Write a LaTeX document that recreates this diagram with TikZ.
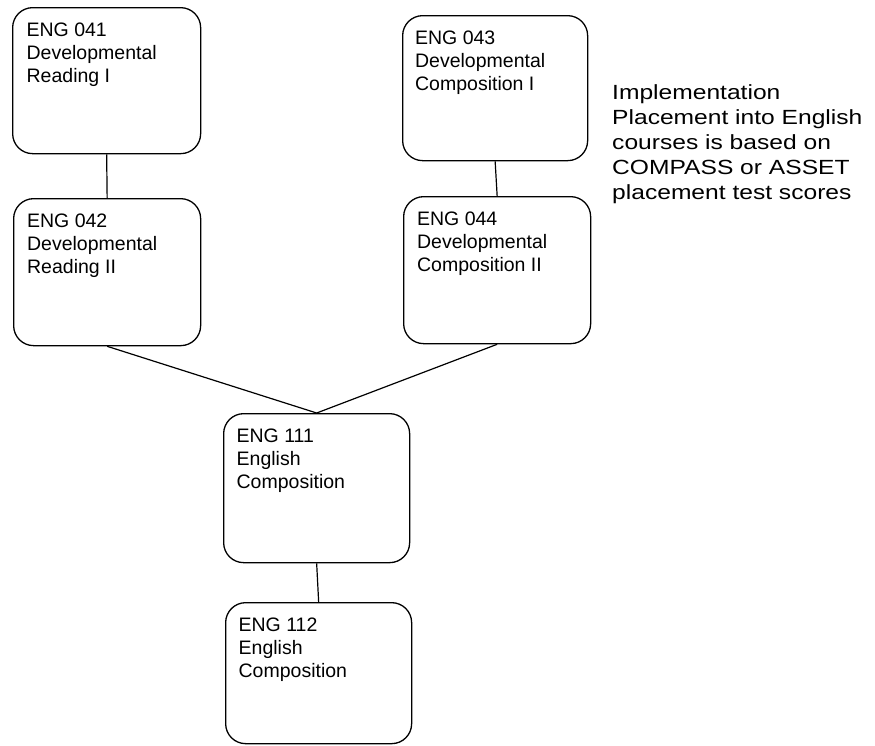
\documentclass[tikz,border=0pt]{standalone}
\usepackage{fontspec}
\setmainfont{Liberation Sans}
\newfontfamily\notefont[FakeStretch=1.2]{Liberation Sans}
\newcommand\boxtxt[2]{\parbox[c][#1][t]{160pt}{\vspace*{15pt}\raggedright #2}}
\begin{document}
\begin{tikzpicture}[x=1pt,y=-1pt,
  course/.style={draw, line width=1.3pt, rounded corners=20pt, anchor=north west,
    inner xsep=9pt, inner ysep=0pt, font=\fontsize{19.5pt}{23pt}\selectfont},
  link/.style={line width=1.2pt}]
\useasboundingbox[fill=white] (0,0) rectangle (875,745);
\node[course, minimum width=188pt] (e041) at (12,7) {\boxtxt{146pt}{ENG 041\\Developmental\\Reading I}};
\node[course, minimum width=187pt] (e042) at (13,198) {\boxtxt{147pt}{ENG 042\\Developmental\\Reading II}};
\node[course, minimum width=185pt] (e043) at (402,15) {\boxtxt{145pt}{ENG 043\\Developmental\\Composition I}};
\node[course, minimum width=187pt] (e044) at (403,196) {\boxtxt{147pt}{ENG 044\\Developmental\\Composition II}};
\node[course, minimum width=186pt] (e111) at (223,413) {\boxtxt{149pt}{ENG 111\\English\\Composition}};
\node[course, minimum width=186pt] (e112) at (225,602) {\boxtxt{141pt}{ENG 112\\English\\Composition}};
\node[anchor=north west, inner sep=0pt, align=left,
  font=\notefont\fontsize{20.5pt}{25pt}\selectfont] (note) at (612,84)
  {Implementation\\Placement into English\\courses is based on\\COMPASS or ASSET\\placement test scores};
\draw[link] (e041.south) -- (e042.north);
\draw[link] (e043.south) -- (e044.north);
\draw[link] (e042.south) -- (e111.north);
\draw[link] (e044.south) -- (e111.north);
\draw[link] (e111.south) -- (e112.north);
\end{tikzpicture}
\end{document}
